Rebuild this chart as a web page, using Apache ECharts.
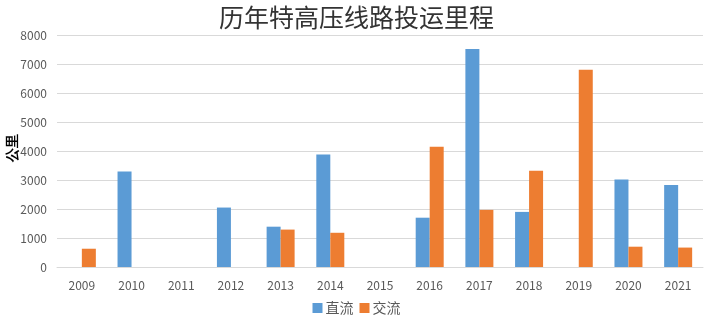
<!DOCTYPE html>
<html>
<head>
<meta charset="utf-8">
<script src="https://cdn.jsdelivr.net/npm/echarts@6/dist/echarts.min.js"></script>
<style>
  html, body { margin: 0; padding: 0; background: #fff; }
  #chart { width: 713px; height: 322px; }
</style>
</head>
<body>
<div id="chart"></div>
<script>
// Years on the category axis
const years = ['2009', '2010', '2011', '2012', '2013', '2014', '2015', '2016', '2017', '2018', '2019', '2020', '2021'];
// DC lines put into operation each year (km)
const dcValues = [null, 3290, null, 2050, 1390, 3880, null, 1700, 7520, 1900, null, 3020, 2830];
// AC lines put into operation each year (km)
const acValues = [630, null, null, null, 1290, 1180, null, 4150, 1970, 3320, 6800, 700, 670];
// Value axis tick labels
const yTicks = [0, 1000, 2000, 3000, 4000, 5000, 6000, 7000, 8000];

const chart = echarts.init(document.getElementById('chart'), null, { renderer: 'canvas' });

const labelFont = '"Microsoft YaHei", "Noto Sans CJK SC", "DejaVu Sans", sans-serif';

chart.setOption({
  animation: false,
  backgroundColor: '#ffffff',
  title: {
    text: '历年特高压线路投运里程',
    left: 'center',
    top: 0,
    textStyle: { fontSize: 25, fontWeight: 'normal', color: '#333333', fontFamily: labelFont }
  },
  legend: {
    data: ['直流', '交流'],
    bottom: 2,
    left: 'center',
    itemWidth: 10,
    itemHeight: 10,
    itemGap: 6,
    icon: 'rect',
    textStyle: { fontSize: 14, color: '#595959', fontFamily: labelFont, padding: [0, 0, 0, -2] }
  },
  // Rotated unit label for the value axis
  graphic: [{
    type: 'text',
    x: 13,
    y: 148,
    rotation: Math.PI / 2,
    style: {
      text: '公里',
      fontSize: 14,
      fontWeight: 'bold',
      fill: '#000000',
      font: 'bold 14px ' + labelFont,
      align: 'center',
      verticalAlign: 'middle'
    }
  }],
  grid: { left: 57, right: 10, top: 35, bottom: 55, containLabel: false, outerBoundsMode: 'none' },
  xAxis: {
    type: 'category',
    data: years,
    axisLine: { lineStyle: { color: '#d9d9d9' } },
    axisTick: { show: false },
    axisLabel: { color: '#595959', fontSize: 12, margin: 12, fontFamily: labelFont }
  },
  yAxis: {
    type: 'value',
    min: yTicks[0],
    max: yTicks[yTicks.length - 1],
    interval: yTicks[1] - yTicks[0],
    axisLine: { show: false },
    axisTick: { show: false },
    axisLabel: {
      color: '#595959', fontSize: 12, margin: 10, fontFamily: labelFont,
      formatter: (v) => String(v)
    },
    splitLine: { lineStyle: { color: '#d9d9d9' } }
  },
  series: [
    {
      name: '直流',
      type: 'bar',
      data: dcValues,
      itemStyle: { color: '#5b9bd5' },
      barWidth: 14,
      barGap: '0%'
    },
    {
      name: '交流',
      type: 'bar',
      data: acValues,
      itemStyle: { color: '#ed7d31' },
      barWidth: 14,
      barGap: '0%'
    }
  ]
});
</script>
</body>
</html>
